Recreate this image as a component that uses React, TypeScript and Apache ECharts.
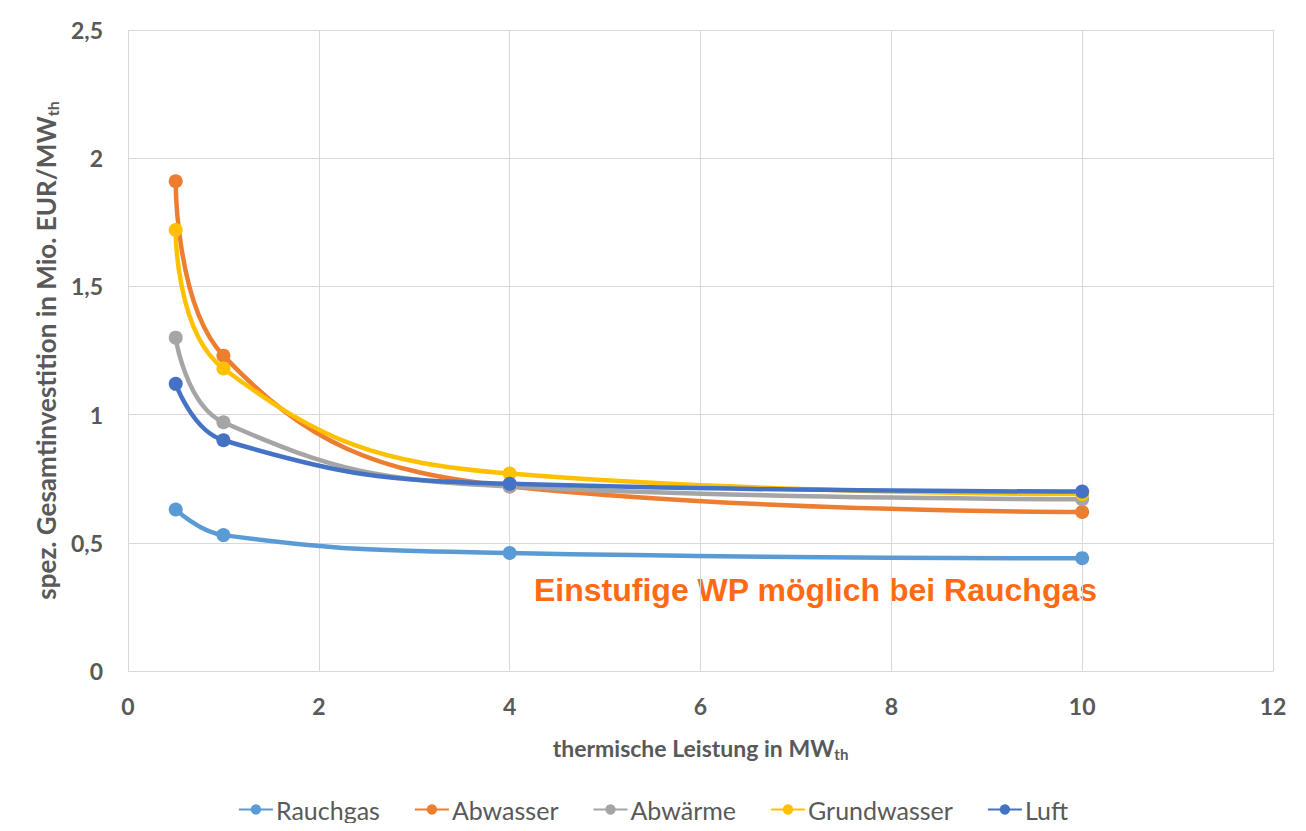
import React, { useEffect, useRef } from "react";
import * as echarts from "echarts";

const xValues = [0.5, 1, 4, 10];
const rauchgas = [0.63, 0.53, 0.46, 0.44];
const abwasser = [1.91, 1.23, 0.72, 0.62];
const abwaerme = [1.3, 0.97, 0.72, 0.67];
const grundwasser = [1.72, 1.18, 0.77, 0.69];
const luft = [1.12, 0.9, 0.73, 0.7];

const seriesDefs = [
  { name: "Rauchgas", data: rauchgas, color: "#5B9BD5" },
  { name: "Abwasser", data: abwasser, color: "#ED7D31" },
  { name: "Abwärme", data: abwaerme, color: "#A5A5A5" },
  { name: "Grundwasser", data: grundwasser, color: "#FFC000" },
  { name: "Luft", data: luft, color: "#4472C4" },
];

const FONT = "Lato, 'Open Sans', sans-serif";
const GRAY = "#595959";

export default function App() {
  const ref = useRef<HTMLDivElement>(null);
  useEffect(() => {
    if (!ref.current) return;
    const chart = echarts.init(ref.current, undefined, { renderer: "svg" });
    chart.setOption({
      animation: false,
      backgroundColor: "#ffffff",
      grid: { left: 128, right: 33, top: 30, bottom: 160, containLabel: false },
      xAxis: {
        type: "value",
        min: 0,
        max: 12,
        interval: 2,
        axisLine: { show: true, lineStyle: { color: "#d9d9d9", width: 1 } },
        axisTick: { show: false },
        splitLine: { show: true, lineStyle: { color: "#d9d9d9", width: 1 } },
        axisLabel: { color: GRAY, fontSize: 23, fontWeight: "bold", fontFamily: FONT, margin: 23 },
        name: "{a|thermische Leistung in MW}{b|th}",
        nameLocation: "middle",
        nameGap: 63,
        nameTextStyle: {
          rich: {
            a: { fontSize: 23, fontWeight: "bold", color: GRAY, fontFamily: FONT },
            b: { fontSize: 15, fontWeight: "bold", color: GRAY, fontFamily: FONT, padding: [12, 0, 0, 0] },
          },
        },
      },
      yAxis: {
        type: "value",
        min: 0,
        max: 2.5,
        interval: 0.5,
        axisLine: { show: false },
        axisTick: { show: false },
        splitLine: { show: true, lineStyle: { color: "#d9d9d9", width: 1 } },
        axisLabel: {
          color: GRAY,
          fontSize: 23,
          fontWeight: "bold",
          fontFamily: FONT,
          margin: 25,
          formatter: (v: number) => String(v).replace(".", ","),
        },
        name: "{a|spez. Gesamtinvestition in Mio. EUR/MW}{b|th}",
        nameLocation: "middle",
        nameGap: 64,
        nameRotate: 90,
        nameTextStyle: {
          rich: {
            a: { fontSize: 26, fontWeight: "bold", color: GRAY, fontFamily: FONT },
            b: { fontSize: 16, fontWeight: "bold", color: GRAY, fontFamily: FONT, padding: [13, 0, 0, 0] },
          },
        },
      },
      legend: {
        bottom: 4,
        left: "center",
        itemWidth: 34,
        itemHeight: 13,
        itemGap: 34,
        textStyle: { color: GRAY, fontSize: 25, fontFamily: FONT, padding: [0, 0, 0, -2] },
        data: seriesDefs.map((s) => ({ name: s.name })),
      },
      series: seriesDefs.map((s) => ({
        name: s.name,
        type: "line",
        smooth: 0.45,
        data: xValues.map((x, i) => [x, s.data[i]]),
        symbol: "circle",
        symbolSize: 14,
        lineStyle: { color: s.color, width: 4.5 },
        itemStyle: { color: s.color },
        color: s.color,
      })),
      graphic: [
        {
          type: "rect",
          shape: { x: 4, y: 4, width: 1298, height: 823 },
          style: { fill: "none", stroke: "#d9d9d9", lineWidth: 1 },
          silent: true,
        },
        {
          type: "text",
          x: 534,
          y: 590,
          style: {
            text: "Einstufige WP möglich bei Rauchgas",
            fill: "#FF6A13",
            font: "bold 32px 'Liberation Sans', Arial, sans-serif",
            textVerticalAlign: "middle",
          },
        },
      ],
    });
    return () => chart.dispose();
  }, []);
  return <div ref={ref} style={{ width: 1306, height: 831, margin: -8 }} />;
}
